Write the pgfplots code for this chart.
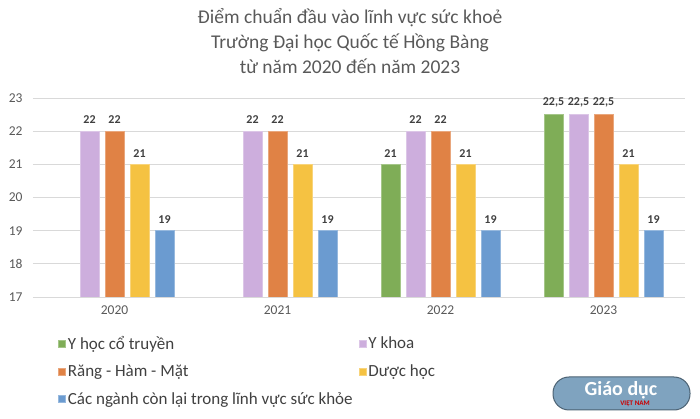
\documentclass[border=0pt]{standalone}
\usepackage{pgfplots}
\pgfplotsset{compat=1.18}
\usepackage{fontspec}
\setmainfont{Carlito}
\definecolor{cgreen}{HTML}{7FAD57}
\definecolor{cpurple}{HTML}{CDAEDD}
\definecolor{corange}{HTML}{E08245}
\definecolor{cyellow}{HTML}{F5C242}
\definecolor{cblue}{HTML}{6B9BD0}
\definecolor{txt}{HTML}{595959}
\definecolor{lbl}{HTML}{404040}
\definecolor{gridc}{HTML}{D9D9D9}
\definecolor{logoc}{HTML}{7FA3BF}
\begin{document}
\begin{tikzpicture}
\useasboundingbox (0,0) rectangle (700bp,419bp);
\node[align=center, text=txt, font=\fontsize{19.5bp}{25bp}\selectfont] at (350bp,378bp)
  {Điểm chuẩn đầu vào lĩnh vực sức khoẻ\\Trường Đại học Quốc tế Hồng Bàng\\từ năm 2020 đến năm 2023};
\begin{axis}[
  at={(33bp,122bp)}, anchor=south west,
  scale only axis, width=652bp, height=199bp,
  ymin=17, ymax=23, ytick={17,18,...,23},
  xmin=-0.5, xmax=3.5, xtick={0,1,2,3}, xticklabels={2020,2021,2022,2023},
  ybar=6bp, bar width=19bp,
  axis line style={draw=none},
  major tick length=0,
  ymajorgrids, grid style={gridc, line width=1bp},
  tick label style={text=txt, font=\fontsize{13.5bp}{15bp}\selectfont},
  yticklabel style={xshift=-7bp},
  xticklabel style={yshift=-5bp},
  /pgf/number format/assume math mode=true,
  /pgf/number format/use comma,
  nodes near coords,
  nodes near coords style={text=lbl, font=\bfseries\fontsize{12bp}{13bp}\selectfont, anchor=south, yshift=3.5bp},
  legend columns=2,
  legend cell align=left,
  legend style={at={(22bp,-35bp)}, anchor=north west, draw=none, fill=none,
    font=\fontsize{17bp}{19bp}\selectfont, text=lbl,
    /tikz/every even column/.style={column sep=4bp},
    row sep=10bp},
  legend image code/.code={\fill[#1] (0bp,-3.5bp) rectangle (7bp,3.5bp);},
]
\addplot[fill=cgreen, draw=cgreen!70!white, line width=0.7bp] coordinates {(2,21) (3,22.5)};
\addplot[fill=cpurple, draw=cpurple!70!white, line width=0.7bp] coordinates {(0,22) (1,22) (2,22) (3,22.5)};
\addplot[fill=corange, draw=corange!70!white, line width=0.7bp] coordinates {(0,22) (1,22) (2,22) (3,22.5)};
\addplot[fill=cyellow, draw=cyellow!70!white, line width=0.7bp] coordinates {(0,21) (1,21) (2,21) (3,21)};
\addplot[fill=cblue, draw=cblue!70!white, line width=0.7bp] coordinates {(0,19) (1,19) (2,19) (3,19)};
\legend{Y học cổ truyền, Y khoa, Răng - Hàm - Mặt, Dược học, Các ngành còn lại trong lĩnh vực sức khỏe}
\end{axis}
\fill[logoc, draw=logoc!60!black, line width=1bp, rounded corners=16bp] (553bp,9bp) rectangle (690bp,42bp);
\node[text=white, font=\bfseries\fontsize{20bp}{20bp}\selectfont] at (621bp,29bp) {Giáo dục};
\node[text=red!80!black, font=\bfseries\fontsize{7bp}{7bp}\selectfont] at (635bp,15bp) {VIỆT NAM};
\end{tikzpicture}
\end{document}
